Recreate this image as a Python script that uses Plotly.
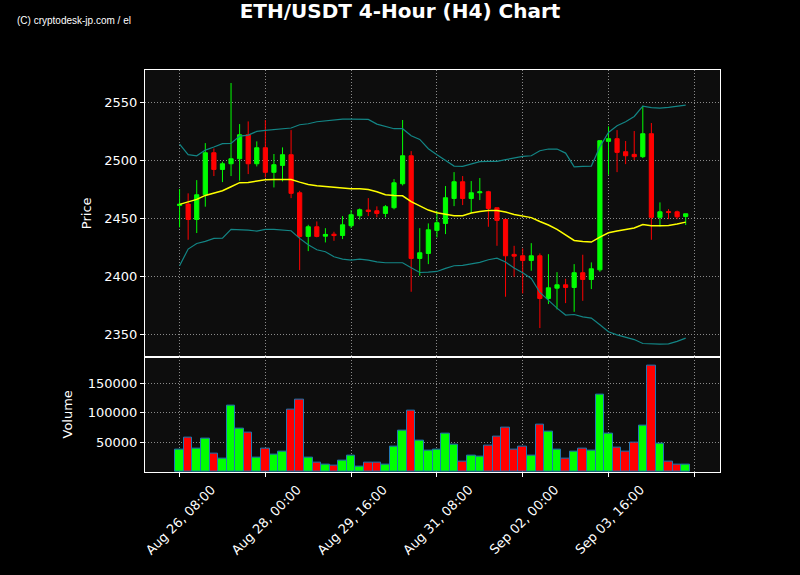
import pandas as pd
import plotly.graph_objects as go
from plotly.subplots import make_subplots

# ---- data ----
times = pd.date_range("2024-08-26 08:00", periods=60, freq="4h")

open_ = [2461.5, 2462.7, 2449.4, 2470.7, 2506.9, 2492.5, 2497.4, 2501.7, 2522.4, 2497.4,
         2511.2, 2490.0, 2496.0, 2505.2, 2472.4, 2434.8, 2443.1, 2435.0, 2436.7, 2435.6,
         2444.0, 2452.6, 2457.5, 2456.9, 2454.6, 2459.5, 2480.2, 2504.3, 2415.8, 2420.1,
         2440.0, 2446.0, 2467.5, 2481.9, 2467.5, 2472.4, 2473.3, 2459.5, 2449.4, 2419.3,
         2418.1, 2414.1, 2418.1, 2381.3, 2390.2, 2393.1, 2390.8, 2403.5, 2397.7, 2406.0,
         2516.7, 2519.0, 2507.8, 2505.5, 2503.5, 2523.3, 2451.2, 2456.2, 2456.0, 2452.0]
high = [2475.6, 2471.9, 2483.3, 2515.2, 2510.6, 2499.2, 2567.0, 2531.6, 2533.9, 2516.7,
        2535.1, 2505.8, 2511.5, 2526.4, 2474.1, 2444.8, 2447.7, 2441.9, 2438.8, 2452.3,
        2457.5, 2458.9, 2467.8, 2460.7, 2461.8, 2484.2, 2535.1, 2508.3, 2441.9, 2446.0,
        2456.9, 2478.2, 2490.2, 2486.8, 2482.5, 2485.1, 2474.1, 2459.5, 2449.4, 2426.7,
        2424.4, 2429.0, 2420.1, 2419.5, 2404.0, 2398.3, 2410.9, 2419.0, 2412.4, 2517.3,
        2529.6, 2526.4, 2517.0, 2525.6, 2547.4, 2532.5, 2464.1, 2458.3, 2457.0, 2454.3]
low = [2442.6, 2431.9, 2437.7, 2460.4, 2486.8, 2481.6, 2486.8, 2482.8, 2488.5, 2495.1,
       2485.6, 2477.0, 2482.2, 2467.8, 2405.8, 2422.1, 2434.0, 2429.6, 2431.0, 2432.5,
       2442.0, 2449.2, 2452.3, 2451.2, 2451.2, 2458.1, 2478.7, 2387.1, 2400.9, 2410.9,
       2433.9, 2436.8, 2460.9, 2461.8, 2454.9, 2466.1, 2443.1, 2426.7, 2382.8, 2400.0,
       2385.7, 2405.2, 2355.8, 2376.5, 2371.9, 2377.3, 2369.8, 2379.3, 2389.4, 2404.3,
       2487.9, 2490.2, 2497.1, 2500.6, 2502.3, 2431.9, 2443.4, 2449.7, 2449.7, 2444.6]
close = [2462.5, 2449.4, 2470.7, 2506.9, 2492.5, 2497.4, 2501.7, 2522.4, 2497.4, 2511.2,
         2490.0, 2496.6, 2505.2, 2471.9, 2434.8, 2443.1, 2434.8, 2436.5, 2435.5, 2444.8,
         2453.5, 2457.8, 2456.3, 2454.6, 2460.4, 2481.0, 2504.3, 2415.8, 2420.7, 2440.5,
         2446.6, 2468.1, 2481.9, 2467.5, 2472.4, 2473.2, 2458.9, 2448.6, 2418.1, 2417.8,
         2414.1, 2418.1, 2381.3, 2390.5, 2393.1, 2390.8, 2403.5, 2397.7, 2406.9, 2517.3,
         2519.0, 2507.2, 2504.3, 2503.5, 2523.3, 2451.2, 2456.0, 2455.5, 2451.7, 2454.3]
volume = [37500, 58500, 39800, 56800, 31300, 22900, 112700, 73700, 66900, 24500,
          39800, 29600, 34700, 105900, 122900, 24500, 16100, 12700, 11000, 19500,
          28000, 9300, 16100, 16100, 12700, 43200, 70300, 104200, 53400, 36400,
          38100, 65300, 46600, 17800, 28000, 26300, 44900, 60200, 75400, 38100,
          43200, 28000, 80500, 68600, 38100, 22900, 34700, 39800, 36400, 129700,
          65300, 41500, 34700, 50000, 78800, 178800, 48300, 17800, 12700, 12700]
ma20 = [2462.4, 2464.7, 2466.7, 2470.1, 2472.4, 2474.1, 2477.6, 2481.1, 2481.3, 2482.5,
        2483.6, 2483.9, 2484.2, 2483.9, 2481.6, 2479.6, 2478.5, 2477.9, 2476.8, 2476.2,
        2475.9, 2475.9, 2475.3, 2473.3, 2470.7, 2470.1, 2469.8, 2464.7, 2460.9, 2457.5,
        2455.2, 2453.7, 2452.6, 2452.6, 2454.9, 2456.3, 2457.2, 2457.2, 2455.8, 2453.7,
        2452.5, 2451.0, 2447.7, 2444.6, 2440.8, 2436.2, 2431.3, 2430.5, 2429.9, 2434.2,
        2437.9, 2439.4, 2440.5, 2442.0, 2445.1, 2444.0, 2444.0, 2444.3, 2445.4, 2447.1]
bb_upper = [2514.4, 2505.2, 2504.3, 2509.2, 2511.8, 2514.7, 2515.0, 2521.3, 2522.1, 2525.3,
            2526.2, 2527.0, 2527.9, 2528.2, 2531.0, 2531.9, 2533.6, 2534.2, 2535.4, 2535.9,
            2535.9, 2535.9, 2535.6, 2531.6, 2529.3, 2527.6, 2527.6, 2521.6, 2518.4, 2510.4,
            2505.2, 2500.0, 2495.4, 2495.1, 2497.1, 2499.2, 2499.4, 2499.4, 2500.9, 2502.3,
            2503.8, 2504.3, 2508.6, 2510.1, 2510.1, 2506.6, 2494.8, 2495.1, 2495.4, 2512.1,
            2524.4, 2530.2, 2533.6, 2538.2, 2547.1, 2545.7, 2545.4, 2546.0, 2547.1, 2548.0]
bb_lower = [2409.5, 2423.9, 2428.7, 2430.5, 2433.1, 2433.3, 2440.8, 2440.8, 2440.2, 2439.4,
            2440.8, 2440.8, 2440.5, 2439.7, 2433.1, 2427.6, 2423.3, 2421.6, 2417.3, 2415.2,
            2414.4, 2415.2, 2414.4, 2412.9, 2412.1, 2412.1, 2412.1, 2407.8, 2403.7, 2404.0,
            2404.6, 2407.2, 2409.5, 2409.8, 2411.2, 2412.4, 2414.7, 2416.1, 2412.7, 2407.5,
            2403.5, 2398.5, 2386.5, 2379.3, 2373.0, 2367.0, 2367.5, 2365.5, 2364.4, 2358.6,
            2352.6, 2350.0, 2347.7, 2345.9, 2342.5, 2341.9, 2341.9, 2342.2, 2344.3, 2347.1]

tick_times = ["2024-08-26 08:00", "2024-08-28 00:00", "2024-08-29 16:00", "2024-08-31 08:00",
              "2024-09-02 00:00", "2024-09-03 16:00", "2024-09-05 08:00"]
tick_labels = ["Aug 26, 08:00", "Aug 28, 00:00", "Aug 29, 16:00", "Aug 31, 08:00",
               "Sep 02, 00:00", "Sep 03, 16:00", ""]
price_ticks = [2350, 2400, 2450, 2500, 2550]
volume_ticks = [50000, 100000, 150000]

GREEN = "#00ff00"
RED = "#ff0000"
vol_colors = [GREEN if c >= o else RED for o, c in zip(open_, close)]

fig = make_subplots(rows=2, cols=1, shared_xaxes=True, vertical_spacing=0,
                    row_heights=[0.713, 0.287])

fig.add_trace(go.Scatter(x=times, y=bb_upper, mode="lines",
                         line=dict(color="#138585", width=1.2), showlegend=False), row=1, col=1)
fig.add_trace(go.Scatter(x=times, y=bb_lower, mode="lines",
                         line=dict(color="#138585", width=1.2), showlegend=False), row=1, col=1)
fig.add_trace(go.Candlestick(x=times, open=open_, high=high, low=low, close=close,
                             increasing=dict(line=dict(color=GREEN, width=1), fillcolor=GREEN),
                             decreasing=dict(line=dict(color=RED, width=1), fillcolor=RED),
                             showlegend=False), row=1, col=1)
fig.add_trace(go.Scatter(x=times, y=ma20, mode="lines",
                         line=dict(color="#ffff00", width=1.5), showlegend=False), row=1, col=1)

fig.add_trace(go.Bar(x=times, y=volume, width=4 * 3600 * 1000,
                     marker=dict(color=vol_colors, line=dict(color="#1f77b4", width=1)),
                     showlegend=False), row=2, col=1)

step_ms = 4 * 3600 * 1000
x0 = times[0] - pd.Timedelta(milliseconds=4.03 * step_ms)
x1 = times[0] + pd.Timedelta(milliseconds=63.0 * step_ms)

axis_common = dict(showline=True, linecolor="white", linewidth=1, mirror=True,
                   showgrid=True, gridcolor="#8a8a8a", griddash="1px,2px", gridwidth=1,
                   zeroline=False, tickfont=dict(family="DejaVu Sans", size=13, color="white"))

fig.update_xaxes(**axis_common, range=[x0, x1], tickvals=tick_times, ticktext=tick_labels,
                 rangeslider=dict(visible=False))
fig.update_xaxes(ticks="", showticklabels=False, row=1, col=1)
fig.update_xaxes(ticks="outside", ticklen=4, tickcolor="white", tickangle=-45,
                 ticklabelshift=32, row=2, col=1)

fig.update_yaxes(**axis_common, ticks="outside", ticklen=4, tickcolor="white")
fig.update_yaxes(range=[2331.2, 2578.2], tickvals=price_ticks,
                 title=dict(text="Price", font=dict(family="DejaVu Sans", size=13, color="white"),
                            standoff=9), row=1, col=1)
fig.update_yaxes(range=[0, 194600], tickvals=volume_ticks, tickformat="d",
                 title=dict(text="Volume", font=dict(family="DejaVu Sans", size=13, color="white"),
                            standoff=12), row=2, col=1)

fig.update_layout(
    width=800, height=575,
    margin=dict(l=145, r=80, t=70, b=103),
    paper_bgcolor="#000000", plot_bgcolor="#0d0d0d",
    title=dict(text="ETH/USDT 4-Hour (H4) Chart", x=0.5, xanchor="center",
               y=1 - 10.5 / 575, yanchor="middle", yref="container",
               font=dict(family="DejaVu Sans", size=20, color="white", weight="bold")),
    font=dict(family="DejaVu Sans", color="white"),
    bargap=0,
    annotations=[dict(text="(C) cryptodesk-jp.com / el", xref="paper", yref="paper",
                      x=(15 - 145) / 575, y=1 + (70 - 20) / 402, xanchor="left", yanchor="middle",
                      showarrow=False, font=dict(family="Liberation Sans", size=10, color="white"))],
)

# remove the browser's default 8px page margin so the figure sits at the window origin
fig.write_html("out.html", config={"displayModeBar": False},
               post_script="document.body.style.margin='0px';document.body.style.background='#000';")
